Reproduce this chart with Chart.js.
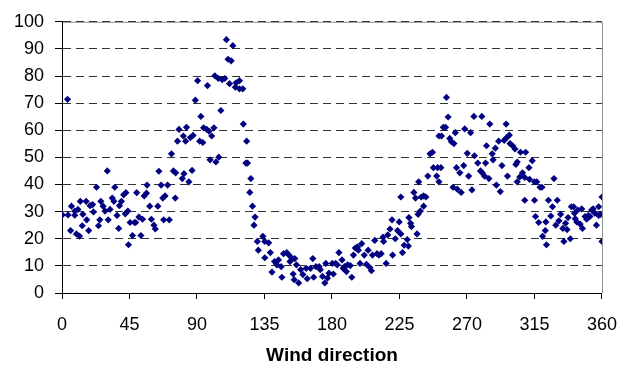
<!DOCTYPE html>
<html>
<head>
<meta charset="utf-8">
<script src="https://cdn.jsdelivr.net/npm/chart.js@4"></script>
<style>
  html, body { margin: 0; padding: 0; background: #fff; }
  #wrap { width: 632px; height: 369px; }
</style>
</head>
<body>
<div id="wrap"><canvas id="windChart" width="632" height="369"></canvas></div>
<script>
'use strict';

// wind direction (degrees) of each reading
const direction = [
  0.2, 3.7, 4, 5.7, 6.3, 8.5, 8.5, 9.6, 10.6, 11.7, 12.2, 13.5, 13.9, 16.1, 16.5, 17.8, 18.7, 20.4, 21, 23,
  24.3, 25.2, 25.9, 27.4, 28.7, 30.2, 30.8, 32, 33.5, 34.6, 35.2, 36.7, 37.8, 38.3, 39.6, 41.1, 42.2, 42.6, 43.9, 44.3,
  45.4, 47, 48.3, 49.1, 49.8, 51.3, 52.6, 53.7, 54.8, 56.3, 56.7, 58.5, 59.6, 61.3, 62.2, 63.9, 64.6, 66.1, 67.2, 67.8,
  68.7, 70.4, 71.5, 73, 74.3, 75.5, 75.8, 77, 78, 80.2, 80.9, 81.3, 82.4, 83, 84.6, 85.6, 86.7, 87.4, 88.9, 90.4,
  91.8, 92.6, 93.9, 94.4, 96.5, 97, 98, 98.7, 99.8, 101.3, 101.9, 102.6, 104.2, 104.5, 105.9, 106.8, 108.5, 109.6, 110.7, 111.7,
  112.8, 113.9, 115.6, 116.1, 118.3, 118.3, 120.5, 120.9, 122.6, 123.1, 123.7, 125.2, 125.9, 127, 128, 128.7, 130.2, 130.9, 133.9, 135.2,
  135.2, 137.8, 138.9, 140, 141.7, 143.3, 144.3, 146.1, 146.6, 147.7, 149.8, 151.3, 152, 153.5, 154.1, 154.8, 155.2, 156.3, 157.8, 159.1,
  160.6, 162.8, 163.5, 165.7, 167.2, 167.8, 169.4, 171.5, 172.2, 173.7, 175.2, 175.9, 177, 178, 180.2, 180.9, 182.4, 183.5, 184.6, 186.7,
  187.4, 188.3, 189.6, 190.4, 192.2, 193.2, 194.3, 195.5, 197, 197.6, 198.7, 199.8, 201.5, 203, 204.1, 205.2, 206.3, 207, 208.5, 210,
  211.3, 212.8, 214, 214.4, 216.1, 217.2, 218.7, 220, 220.4, 222.2, 223.7, 224.8, 225.9, 225.9, 227, 228.1, 230.2, 230.9, 231.3, 232.4,
  233, 234.6, 235.7, 236.7, 237.4, 237.8, 238.9, 239.5, 241.1, 241.1, 242.6, 243.9, 245.4, 247, 247.6, 249.8, 250.4, 251.3, 251.3, 252.6, 253, 254.2, 255.7, 256.3,
  257.4, 258.5, 259.6, 260.7, 261.3, 262.2, 263, 263.5, 265.2, 266.1, 267.8, 268.5, 270.2, 271.1, 272.4, 273.3, 274.6, 275, 277.2, 279,
  279.9, 280.2, 281.7, 282.4, 283, 284.6, 285.2, 286.8, 287.4, 288.9, 289.6, 291.1, 292.2, 293.3, 294.8, 296.1, 296.5, 297, 298.2, 298.7,
  300.4, 302, 302.6, 303.5, 303.5, 305.2, 305.7, 307, 308.5, 308.5, 309.1, 311.3, 311.7, 313.5, 315, 315, 315.7, 316.5, 317.8, 318.7,
  320, 320.4, 322.2, 322.6, 323, 324.3, 325.9, 327, 328, 329.2, 330.2, 331.3, 332.4, 333.9, 334.6, 335.7, 336.7, 337.4, 338.9, 339.6,
  341.1, 341.7, 342.2, 343.2, 343.9, 345.4, 346.5, 347, 348.7, 349.8, 350.9, 352, 353.1, 354.1, 355.2, 356.3, 357.8, 357.8, 359.1, 360,
  360
];

// measured value of each reading
const values = [
  28.8, 71.4, 28.8, 23, 32, 30.2, 28.7, 21.8, 30.8, 21, 33.8, 24.8, 29, 33.8, 27, 23, 32.2, 32.6, 29.9, 39,
  24.8, 27, 33.8, 32, 30.2, 45, 27, 30.8, 35, 33.8, 39, 28.6, 23.8, 32.2, 33.8, 36.2, 29.2, 37, 30.2, 17.8,
  26, 21.2, 26, 26, 37, 28, 21.2, 27.2, 35.8, 36.8, 39.8, 32, 27.2, 25, 23.6, 32, 44.9, 39.8, 35, 27,
  35.8, 39.8, 27, 51.3, 45, 35, 44.3, 56, 60.3, 42.2, 57.9, 44, 56, 61.1, 41, 57.3, 45.2, 58.1, 71.1, 78.3,
  56, 65.1, 55.5, 60.9, 60.3, 76.5, 59.7, 49.1, 57.9, 60.9, 80.1, 48.3, 79.1, 50.1, 67.3, 78.7, 79.1, 93.4, 86.2, 77.2,
  85.6, 91.2, 75.9, 77.5, 78.3, 75.3, 75.3, 62.3, 47.9, 56, 47.9, 37.1, 42.2, 32, 25, 28, 19, 15.8, 20.9, 19,
  13, 18.5, 14.9, 7.7, 11.6, 10.4, 12.2, 9.7, 5.8, 14.5, 14.9, 14, 11.6, 12.7, 7, 4.9, 12.7, 10.4, 3.7, 8.6,
  6.8, 9.1, 5.3, 9.1, 12.7, 5.8, 9.7, 9.7, 8.6, 6.1, 3.7, 10.9, 5.5, 7.3, 10.9, 7, 10.9, 10.4, 14.9, 12.2,
  9.1, 9.7, 7.9, 10.4, 10.1, 5.8, 14, 16.6, 17, 15.8, 10.9, 18.2, 14, 10.6, 15.8, 9.4, 8.2, 14, 19.4, 14.5,
  14, 14.5, 20.6, 19, 10.9, 21.4, 23.6, 27, 14, 20, 23, 26.2, 21.8, 35.4, 14.9, 17.6, 19.7, 17.3, 27.8, 25.7,
  24.5, 37.1, 35, 21.8, 29, 41, 30.2, 35.4, 35.8, 32, 35.4, 43.1, 51.3, 51.9, 46.2, 43.1, 46.2, 41, 57.9, 46.2, 57.9, 61.1, 61.1, 72.1,
  64.9, 57, 55.8, 39, 55.1, 59.1, 46.2, 38.3, 44.3, 37.1, 47, 60.5, 51.5, 43.1, 59.1, 38, 65.1, 50.6, 47.9, 45,
  65.1, 44.3, 43.1, 47.9, 54.3, 42.2, 62.3, 51.3, 49.1, 53.4, 39.8, 56, 37.4, 47, 56.3, 62.3, 57.3, 43.1, 58.2, 55.1,
  54.3, 53.1, 47.4, 48.3, 41, 42.8, 51.9, 44.3, 42.6, 34.2, 51.9, 46.2, 41.9, 48.8, 41, 34.2, 28.2, 41, 26, 39,
  39, 20.9, 23, 26.2, 17.8, 34.2, 28.4, 31.8, 42.2, 25, 34.2, 26.6, 29, 23.8, 19, 25.7, 23.4, 27.8, 20, 31.8,
  31.8, 29.4, 27.4, 26.2, 30.6, 25.4, 31, 23.8, 28.2, 27.2, 28.6, 28.2, 30.6, 31, 29.4, 25, 28.6, 31.8, 29, 35.4,
  19
];

// axis ticks
const xTicks = [0, 45, 90, 135, 180, 225, 270, 315, 360];
const yTicks = [0, 10, 20, 30, 40, 50, 60, 70, 80, 90, 100];

const points = direction.map((d, i) => ({ x: d, y: values[i] }));

// grey frame on top and right of the plot area, like the spreadsheet chart
const plotFrame = {
    id: 'plotFrame',
    beforeDraw(chart) {
        const { ctx, chartArea: a } = chart;
        ctx.save();
        ctx.strokeStyle = '#8c8c8c';
        ctx.lineWidth = 1;
        ctx.beginPath();
        ctx.moveTo(a.left, a.top + 0.5);
        ctx.lineTo(a.right + 0.5, a.top + 0.5);
        ctx.lineTo(a.right + 0.5, a.bottom);
        ctx.stroke();
        ctx.restore();
    }
};

const font = { family: "'Liberation Sans', Arial, sans-serif", size: 18 };

const ctx = document.getElementById('windChart');
const windChart = new Chart(ctx, {
    type: 'scatter',
    data: {
        datasets: [{
            label: 'Readings',
            data: points,
            pointStyle: 'rectRot',
            pointRadius: 3.6,
            pointBorderWidth: 0,
            backgroundColor: '#000080',
            borderColor: '#000080'
        }]
    },
    options: {
        responsive: false,
        animation: false,
        events: [],
        layout: {
            autoPadding: false,
            padding: { top: 14, right: 18, bottom: 0, left: 0 }
        },
        plugins: {
            legend: { display: false },
            tooltip: { enabled: false }
        },
        scales: {
            x: {
                type: 'linear',
                min: 0,
                max: 360,
                afterBuildTicks: axis => { axis.ticks = xTicks.map(v => ({ value: v })); },
                afterFit: axis => { axis.height = 76; },
                ticks: { color: '#000', font: font, padding: 15, maxRotation: 0 },
                grid: {
                    drawOnChartArea: false,
                    drawTicks: true,
                    tickLength: 6,
                    tickColor: '#000'
                },
                border: { display: true, color: '#000', width: 1 },
                title: {
                    display: true,
                    text: 'Wind direction',
                    color: '#000',
                    font: { family: font.family, size: 19, weight: 'bold' },
                    padding: { top: 0, bottom: 2 }
                }
            },
            y: {
                type: 'linear',
                min: 0,
                max: 100,
                afterBuildTicks: axis => { axis.ticks = yTicks.map(v => ({ value: v })); },
                afterFit: axis => { axis.width = 62; },
                ticks: { color: '#000', font: font, padding: 11 },
                grid: {
                    color: '#333',
                    lineWidth: 1,
                    drawTicks: true,
                    tickLength: 7,
                    tickColor: '#000',
                    tickBorderDash: []
                },
                border: { display: true, color: '#000', width: 1, dash: [8, 5] }
            }
        }
    },
    plugins: [plotFrame]
});
</script>
</body>
</html>
